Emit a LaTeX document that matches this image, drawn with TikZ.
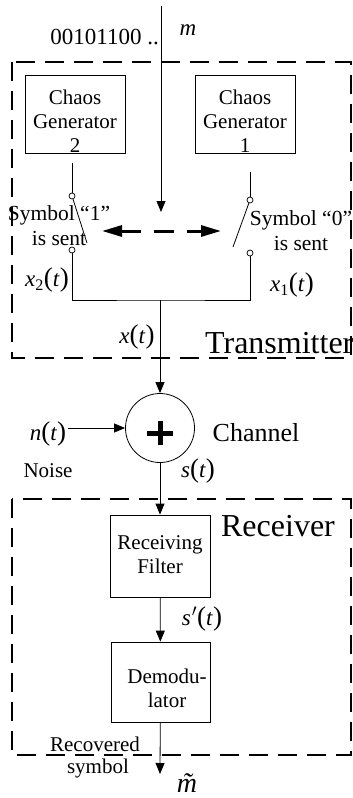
\documentclass[tikz,border=0pt]{standalone}
\usepackage{fontspec}
\setmainfont{Liberation Serif}
\usetikzlibrary{arrows.meta}
\newcommand{\bigpar}[1]{{\fontsize{27}{27}\selectfont #1}}
\newcommand{\sig}[3]{\textit{#1}\textsubscript{#2}\bigpar{(}\textit{#3}\bigpar{)}}
\begin{document}
\begin{tikzpicture}[x=1pt,y=-1pt,
  blk/.style={draw, line width=0.8pt, inner sep=0pt},
  txt/.style={align=center, font=\fontsize{21}{24}\selectfont, inner sep=0pt},
  lbl/.style={font=\fontsize{23}{25}\selectfont, inner sep=0pt},
  big/.style={font=\fontsize{32}{34}\selectfont, inner sep=0pt},
  conn/.style={line width=0.8pt},
  arr/.style={conn, -{Triangle[length=11pt,width=9pt]}},
  grp/.style={line width=2.6pt, dash pattern=on 19pt off 10pt},
  sw/.style={circle, draw, fill=white, inner sep=0pt, minimum size=6pt, line width=0.7pt},
  dbl/.style={line width=3pt, dash pattern=on 20pt off 13pt, {Triangle[length=20pt,width=11pt]}-{Triangle[length=20pt,width=11pt]}}
]
\useasboundingbox (0,0) rectangle (353,798);

% group boxes
\draw[grp] (12,62) rectangle (351,358);
\draw[grp] (12,499) rectangle (351,755);

% input
\coordinate (top) at (161,6);
\coordinate (mtip) at (161,212);
\draw[arr] (top) -- (mtip);
\node[lbl, anchor=east] (bits) at (159,37) {00101100 ..};
\node[lbl] (m) at (188,30) {\textit{m}};

% chaos generators
\node[blk, minimum width=100pt, minimum height=78pt] (gen2) at (75,114) {};
\node[txt] (gen2t) at (75,121) {Chaos\\Generator\\2};
\node[blk, minimum width=100pt, minimum height=78pt] (gen1) at (245,114) {};
\node[txt] (gen1t) at (245,121) {Chaos\\Generator\\1};

% switches
\coordinate (g2o) at (72,163);
\coordinate (g1o) at (250,172);
\node[sw] (s2a) at (72,196) {};
\node[sw] (s2b) at (72,250) {};
\node[sw] (s1a) at (250,200) {};
\node[sw] (s1b) at (250,253) {};
\coordinate (b2) at (87,243);
\coordinate (b1) at (233,247);
\draw[conn] (g2o) -- (s2a);
\draw[conn] (g1o) -- (s1a);
\draw[conn] (s2a) -- (b2);
\draw[conn] (s1a) -- (b1);

\coordinate (dl) at (102,231);
\coordinate (dr) at (221,231);
\draw[dbl] (dl) -- (dr);

\node[txt, align=center, font=\fontsize{21.5}{25}\selectfont] (sym1) at (59,226) {Symbol ``1''\\is sent};
\node[txt, align=center, font=\fontsize{21.5}{25}\selectfont] (sym0) at (301,231) {Symbol ``0''\\is sent};

\node[lbl] (x2) at (47,280) {\sig{x}{2}{t}};
\node[lbl] (x1) at (292,285) {\sig{x}{1}{t}};

% combining
\coordinate (j) at (160,300);
\draw[conn] (s2b) |- (j) -| (s1b);

% channel
\node[circle, draw, line width=0.8pt, minimum size=69pt, inner sep=0pt] (sum) at (160,428) {};
\draw[line width=5pt] (147,433) -- (173,433);
\draw[line width=5pt] (160,421) -- (160,445);
\draw[arr] (j) -- (sum);
\node[lbl] (xt) at (137,337) {\textit{x}\bigpar{(}\textit{t}\bigpar{)}};
\node[big, anchor=west] (tx) at (205,343) {Transmitter};

\coordinate (nt) at (68,428);
\draw[arr] (nt) -- (sum);
\node[lbl] (ntl) at (48,434) {\textit{n}\bigpar{(}\textit{t}\bigpar{)}};
\node[txt] (noise) at (48,471) {Noise};
\node[lbl, font=\fontsize{26}{28}\selectfont] (chan) at (256,433) {Channel};
\node[lbl] (st) at (198,471) {\textit{s}\bigpar{(}\textit{t}\bigpar{)}};

% receiver
\node[blk, minimum width=100pt, minimum height=82pt] (filt) at (160,556) {};
\node[txt] (filtt) at (160,555) {Receiving\\Filter};
\node[blk, minimum width=99pt, minimum height=80pt] (demod) at (160.5,682) {};
\node[txt] (demodt) at (167,688) {Demodu-\\lator};
\draw[arr] (sum) -- (filt);
\draw[arr] (filt) -- (demod);
\node[lbl] (sp) at (202,619) {\textit{s}\kern1pt$'$\bigpar{(}\textit{t}\bigpar{)}};
\node[big] (rx) at (278,526) {Receiver};

\coordinate (out) at (160,774);
\draw[arr] (demod) -- (out);
\node[txt] (rec) at (95,744) {Recovered};
\node[txt] (symb) at (98,768) {symbol};
\node[font=\fontsize{28}{28}\selectfont, inner sep=0pt] (mt) at (187,783) {\itshape\~{m}};
\end{tikzpicture}
\end{document}
